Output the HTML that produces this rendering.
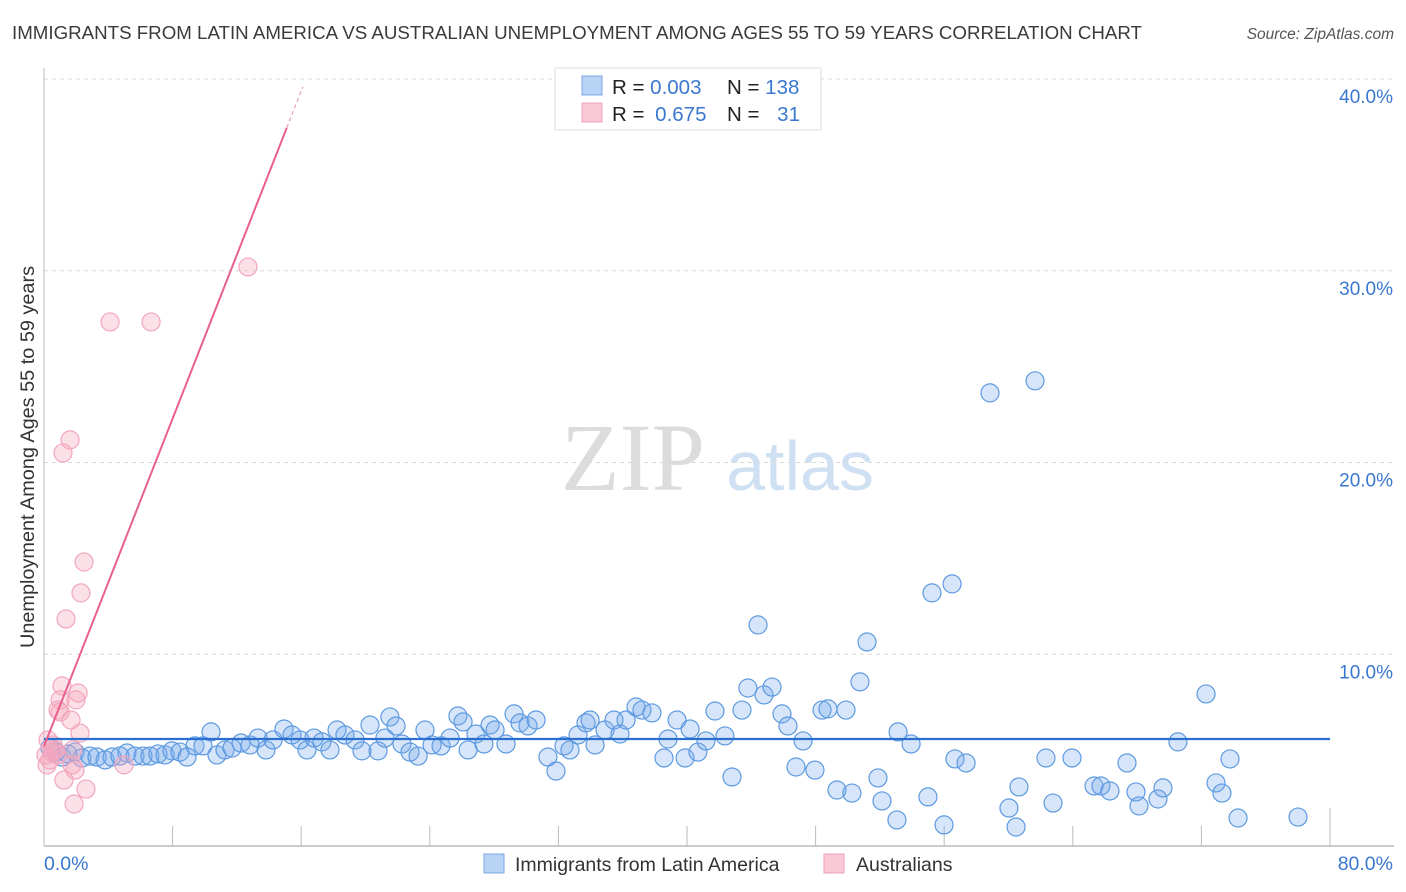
<!DOCTYPE html>
<html><head><meta charset="utf-8">
<style>
body{margin:0;background:#fff;font-family:"Liberation Sans",sans-serif;}
svg{display:block}
</style></head>
<body>
<svg id="chart" width="1406" height="892" xmlns="http://www.w3.org/2000/svg">
<text x="12" y="39" font-size="18" fill="#3a3a3a" textLength="1130" lengthAdjust="spacingAndGlyphs">IMMIGRANTS FROM LATIN AMERICA VS AUSTRALIAN UNEMPLOYMENT AMONG AGES 55 TO 59 YEARS CORRELATION CHART</text>
<text x="1394" y="39" font-size="15.5" fill="#555" font-style="italic" text-anchor="end">Source: ZipAtlas.com</text>
<g>
<text x="633" y="490" font-family="Liberation Serif,serif" font-size="96" fill="#dcdcdc" text-anchor="middle">ZIP</text>
<text x="800" y="490" font-size="70" fill="#cfe0f3" text-anchor="middle">atlas</text>
</g>
<text transform="translate(34,457) rotate(-90)" font-size="19" fill="#333" text-anchor="middle" textLength="382" lengthAdjust="spacingAndGlyphs">Unemployment Among Ages 55 to 59 years</text>
<g id="grid"></g>
<g id="axes"></g>
<g id="marks"></g>
<g>
<rect x="555" y="68" width="266" height="62" fill="#fff" stroke="#ddd"/>
<rect x="582" y="76" width="20" height="19" fill="#b8d3f3" stroke="#7aaae6"/>
<rect x="582" y="103" width="20" height="19" fill="#f9c9d7" stroke="#f0a0b8"/>
<text x="612" y="94" font-size="20.5" fill="#222">R = <tspan fill="#3a78d0">0.003</tspan></text>
<text x="727" y="94" font-size="20.5" fill="#222">N = <tspan fill="#3a78d0">138</tspan></text>
<text x="612" y="121" font-size="20.5" fill="#222">R = <tspan fill="#3a78d0" dx="5">0.675</tspan></text>
<text x="727" y="121" font-size="20.5" fill="#222">N = <tspan fill="#3a78d0" dx="12">31</tspan></text>
</g>
<g>
<rect x="484" y="854" width="20" height="19" fill="#b8d3f3" stroke="#7aaae6"/>
<text x="515" y="871" font-size="19.5" fill="#333">Immigrants from Latin America</text>
<rect x="824" y="854" width="20" height="19" fill="#f9c9d7" stroke="#f0a0b8"/>
<text x="856" y="871" font-size="19.5" fill="#333">Australians</text>
</g>
</svg>
<script>
const blueX=[0.37,0.75,1.12,1.49,1.93,2.36,2.86,3.30,3.80,4.23,4.73,5.16,5.66,6.16,6.59,7.09,7.53,7.96,8.46,8.90,9.39,9.89,10.39,10.76,11.26,11.70,12.26,12.82,13.31,13.81,14.25,14.93,15.43,15.93,16.36,16.80,17.29,17.79,18.23,18.72,19.35,19.78,20.28,20.78,21.21,21.52,21.90,22.27,22.77,23.27,23.70,24.14,24.70,25.26,25.75,26.07,26.38,26.87,27.37,27.75,28.06,28.74,29.24,29.61,30.11,30.61,31.35,31.85,32.35,32.72,33.22,33.72,33.97,34.28,34.90,35.46,35.83,36.21,36.83,37.20,37.82,38.57,38.82,39.38,39.88,40.19,40.68,41.18,41.74,42.36,42.80,43.42,43.79,44.42,44.79,45.29,45.91,46.28,46.78,47.22,47.96,48.40,48.77,49.33,49.89,50.26,50.76,51.20,51.88,52.13,53.06,53.13,53.94,54.99,55.24,55.99,56.49,56.67,57.36,58.85,60.03,60.47,60.65,61.65,62.33,62.77,63.95,65.32,65.75,66.31,67.37,67.93,68.12,69.30,69.61,70.54,72.29,72.91,73.28,73.78,74.28,78.01];
const blueY=[5.11,4.90,4.64,4.80,4.90,4.59,4.69,4.64,4.49,4.64,4.69,4.85,4.69,4.69,4.69,4.80,4.75,4.96,4.90,4.64,5.22,5.22,5.95,4.75,5.01,5.11,5.37,5.27,5.63,5.01,5.53,6.10,5.79,5.53,5.01,5.63,5.43,5.01,6.05,5.79,5.53,4.96,6.31,4.96,5.63,6.73,6.26,5.32,4.90,4.69,6.05,5.27,5.22,5.63,6.78,6.47,5.01,5.84,5.32,6.31,6.05,5.32,6.89,6.42,6.26,6.57,4.64,3.91,5.22,5.01,5.79,6.42,6.57,5.27,6.05,6.57,5.84,6.57,7.25,7.09,6.94,4.59,5.58,6.57,4.59,6.10,4.90,5.48,7.04,5.74,3.60,7.09,8.24,11.53,7.88,8.29,6.89,6.26,4.12,5.48,3.96,7.09,7.15,2.92,7.09,2.76,8.56,10.64,3.55,2.35,1.36,5.95,5.32,2.56,13.20,1.10,13.67,4.54,4.33,23.63,1.98,0.99,3.08,24.26,4.59,2.24,4.59,3.13,3.13,2.87,4.33,2.82,2.09,2.45,3.03,5.43,7.93,3.29,2.76,4.54,1.46,1.51];
const pinkX=[0.19,0.37,0.56,0.68,0.81,1.00,1.12,1.24,1.37,1.62,1.68,1.74,1.80,1.87,1.99,2.12,2.24,2.30,2.49,2.61,1.18,4.11,6.66,12.69,4.98,0.87,0.50,0.12,1.00,1.93,0.25];
const pinkY=[4.23,4.49,5.27,5.01,4.75,6.99,8.35,3.44,11.84,21.18,6.57,4.23,5.01,2.19,7.62,7.98,5.89,13.20,14.81,2.97,20.50,27.33,27.33,30.20,4.23,7.09,4.90,4.75,7.62,3.96,5.53];
const yTicks=[10,20,30,40];
const yTickLabels=["10.0%","20.0%","30.0%","40.0%"];
const xTicks=[0,8,16,24,32,40,48,56,64,72,80];
const blueTrend=[5.58,0];      // intercept, slope
const pinkTrend=[5.2,2.136];   // intercept, slope
const pinkSolidEnd=15.1, pinkDashEnd=16.1;

const X0=44,XW=1286,Y0=846,YH=767;
const sx=v=>X0+v/80*XW;
const sy=v=>Y0-v/40*YH;
const NS="http://www.w3.org/2000/svg";
function mk(tag,attrs,parent){const e=document.createElementNS(NS,tag);for(const k in attrs)e.setAttribute(k,attrs[k]);parent.appendChild(e);return e;}
const grid=document.getElementById('grid'),axes=document.getElementById('axes'),marks=document.getElementById('marks');
yTicks.forEach((t,i)=>{
  const l=mk('line',{x1:X0,x2:1394,y1:sy(t),y2:sy(t),stroke:'#d8d8d8','stroke-dasharray':'4,4'},grid);
  
  
  const tx=mk('text',{x:1393,y:sy(t)+24,'font-size':19,fill:'#3a78d0','text-anchor':'end'},axes);
  tx.textContent=yTickLabels[i];
  
  
});
const ya=mk('line',{x1:X0,x2:X0,y1:68,y2:Y0,stroke:'#bbb'},axes);


const xa=mk('line',{x1:X0,x2:1394,y1:Y0,y2:Y0,stroke:'#bbb','stroke-width':1.5},axes);


xTicks.forEach((t,i)=>{
  const top=(i==xTicks.length-1)?808:826;
  const tk=mk('line',{x1:sx(t),x2:sx(t),y1:top,y2:Y0,stroke:'#bbb'},axes);
  
  
});
const xl0=mk('text',{x:44,y:870,'font-size':19.5,fill:'#3a78d0'},axes);
xl0.textContent='0.0%';


const xl1=mk('text',{x:1393,y:870,'font-size':19.5,fill:'#3a78d0','text-anchor':'end'},axes);
xl1.textContent='80.0%';



blueX.forEach((x,i)=>{
  const c=mk('circle',{cx:sx(x),cy:sy(blueY[i]),r:9,fill:'rgba(120,170,235,0.3)',stroke:'#5d9ae0','stroke-width':1.2},marks);
  
  
});
pinkX.forEach((x,i)=>{
  const c=mk('circle',{cx:sx(x),cy:sy(pinkY[i]),r:9,fill:'rgba(245,165,190,0.35)',stroke:'#f2a6bd','stroke-width':1.2},marks);
  
  
});
const bt=mk('line',{x1:sx(0),x2:sx(80),y1:sy(blueTrend[0]),y2:sy(blueTrend[0]+blueTrend[1]*80),stroke:'#2a6fd0','stroke-width':2.2},marks);


const pt=mk('line',{x1:sx(0),x2:sx(pinkSolidEnd),y1:sy(pinkTrend[0]),y2:sy(pinkTrend[0]+pinkTrend[1]*pinkSolidEnd),stroke:'#e8608e','stroke-width':2},marks);


const pd=mk('line',{x1:sx(pinkSolidEnd),x2:sx(pinkDashEnd),y1:sy(pinkTrend[0]+pinkTrend[1]*pinkSolidEnd),y2:sy(pinkTrend[0]+pinkTrend[1]*pinkDashEnd),stroke:'#e8a0b8','stroke-width':1.2,'stroke-dasharray':'4,3'},marks);


</script>
</body></html>
